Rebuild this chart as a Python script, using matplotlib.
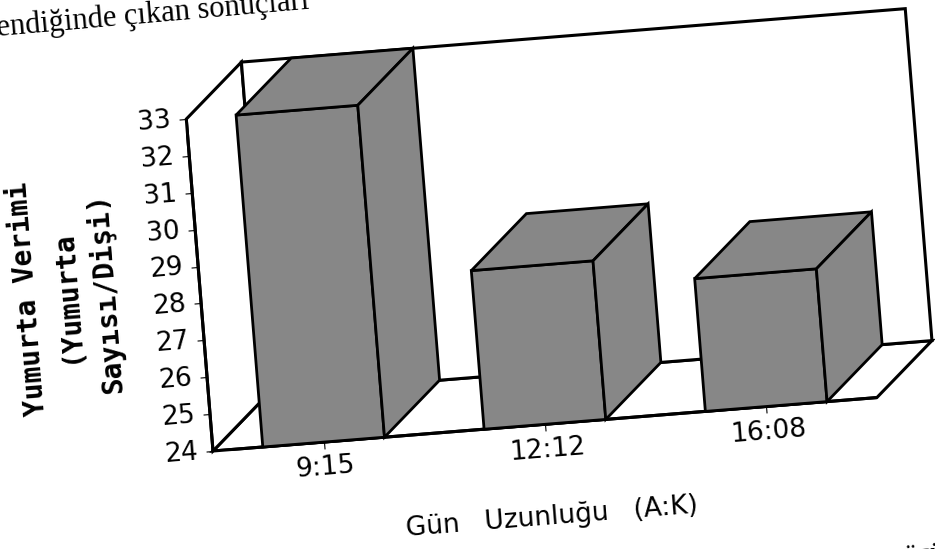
import numpy as np
import matplotlib
matplotlib.use('Agg')
import matplotlib.pyplot as plt
from matplotlib.transforms import Affine2D
from matplotlib.patches import Polygon
import mpl_toolkits.axisartist.floating_axes as floating_axes
from mpl_toolkits.axisartist.grid_finder import FixedLocator, DictFormatter

# ---- data ----
days = ['9:15', '12:12', '16:08']
egg_yield = [33.0, 28.3, 27.6]
y_ticks = [24, 25, 26, 27, 28, 29, 30, 31, 32, 33]
x_label = 'Gün   Uzunluğu   (A:K)'
y_label = 'Yumurta Verimi\n(Yumurta\nSayısı/Dişi)'
top_text = 'endiğinde çıkan sonuçları'
bottom_text = 'yumurtlama gücü'

# ---- layout / style ----
W, H = 935, 549
fig = plt.figure(figsize=(W / 100, H / 100), dpi=100)
fig.patch.set_facecolor('white')

THETA = 4.6           # the scanned page is slightly rotated
SX, SY = 222.0, 37.0  # pixels per category / per unit
tr = Affine2D().scale(SX, SY).rotate_deg(THETA)
X0, X1 = -0.5, len(days) - 0.5
Y0, Y1 = y_ticks[0], y_ticks[-1]
DX, DY = 0.268, 1.416  # oblique depth offset
BW = 0.55
FACE = '#878787'

grid_helper = floating_axes.GridHelperCurveLinear(
    tr, extremes=(X0, X1, Y0, Y1),
    grid_locator1=FixedLocator(list(range(len(days)))),
    tick_formatter1=DictFormatter(dict(enumerate(days))),
    grid_locator2=FixedLocator(y_ticks),
    tick_formatter2=DictFormatter({v: str(v) for v in y_ticks}))

corners = tr.transform([[X0, Y0], [X1, Y0], [X1, Y1], [X0, Y1]])
xmin, ymin = corners.min(axis=0)
xmax, ymax = corners.max(axis=0)
ox, oy = 213, H - 451
left = ox + (xmin - corners[0, 0])
bottom = oy + (ymin - corners[0, 1])
rect = [left / W, bottom / H, (xmax - xmin) / W, (ymax - ymin) / H]
ax = fig.add_axes(rect, axes_class=floating_axes.FloatingAxes,
                  grid_helper=grid_helper)
ax.set_xlim(xmin, xmax)
ax.set_ylim(ymin, ymax)
aux = ax.get_aux_axes(tr)

for side in ('top', 'right'):
    ax.axis[side].set_visible(False)
for side in ('left', 'bottom'):
    a = ax.axis[side]
    a.line.set_linewidth(2.2)
    a.major_ticks.set_tick_out(True)
    a.major_ticks.set_ticksize(5)
    a.major_ticks.set_linewidth(1.5)
    a.major_ticklabels.set_fontsize(19)
    a.major_ticklabels.set_fontfamily('DejaVu Sans')
ax.axis['left'].major_ticklabels.set_pad(6)
ax.axis['bottom'].major_ticklabels.set_pad(4)

ax.axis['bottom'].set_label(x_label)
xl = ax.axis['bottom'].label
xl.set_visible(True)
xl.set_fontsize(19)
xl.set_fontfamily('DejaVu Sans')
xl.set_pad(34)

ax.axis['left'].set_label(y_label)
yl = ax.axis['left'].label
yl.set_visible(True)
yl.set_fontsize(20)
yl.set_fontfamily('DejaVu Sans Mono')
yl.set_fontweight('bold')
yl.set_linespacing(1.5)
yl.set_multialignment('center')
yl.set_pad(22)

# walls and floor
kw = dict(closed=True, facecolor='white', edgecolor='black', linewidth=2.2,
          clip_on=False, zorder=1, joinstyle='miter')
aux.add_patch(Polygon([[X0, Y0], [X1, Y0], [X1 + DX, Y0 + DY], [X0 + DX, Y0 + DY]], **kw))
aux.add_patch(Polygon([[X0, Y0], [X0, Y1], [X0 + DX, Y1 + DY], [X0 + DX, Y0 + DY]], **kw))
aux.add_patch(Polygon([[X0 + DX, Y0 + DY], [X1 + DX, Y0 + DY], [X1 + DX, Y1 + DY], [X0 + DX, Y1 + DY]], **kw))

# bars: front faces through bar(), top and side faces as polygons
xs = np.arange(len(days))
vals = np.array(egg_yield)
aux.bar(xs, vals - Y0, bottom=Y0, width=BW, color=FACE, edgecolor='black',
        linewidth=2.0, clip_on=False, zorder=3)
bkw = dict(closed=True, facecolor=FACE, edgecolor='black', linewidth=2.0,
           clip_on=False, zorder=3, joinstyle='miter')
for x, v in zip(xs, vals):
    l, r = x - BW / 2, x + BW / 2
    aux.add_patch(Polygon([[l, v], [r, v], [r + DX, v + DY], [l + DX, v + DY]], **bkw))
    aux.add_patch(Polygon([[r, Y0], [r, v], [r + DX, v + DY], [r + DX, Y0 + DY]], **bkw))

# fragments of the surrounding book page
fig.text(-3 / W, 1 - 36 / H, top_text, fontsize=22, family='Liberation Serif',
         rotation=5, rotation_mode='anchor', ha='left', va='baseline')
fig.text(945 / W, 1 - 560 / H, bottom_text, fontsize=20, family='Liberation Serif',
         rotation=5, rotation_mode='anchor', ha='right', va='baseline')

fig.savefig('out.png', dpi=100)
